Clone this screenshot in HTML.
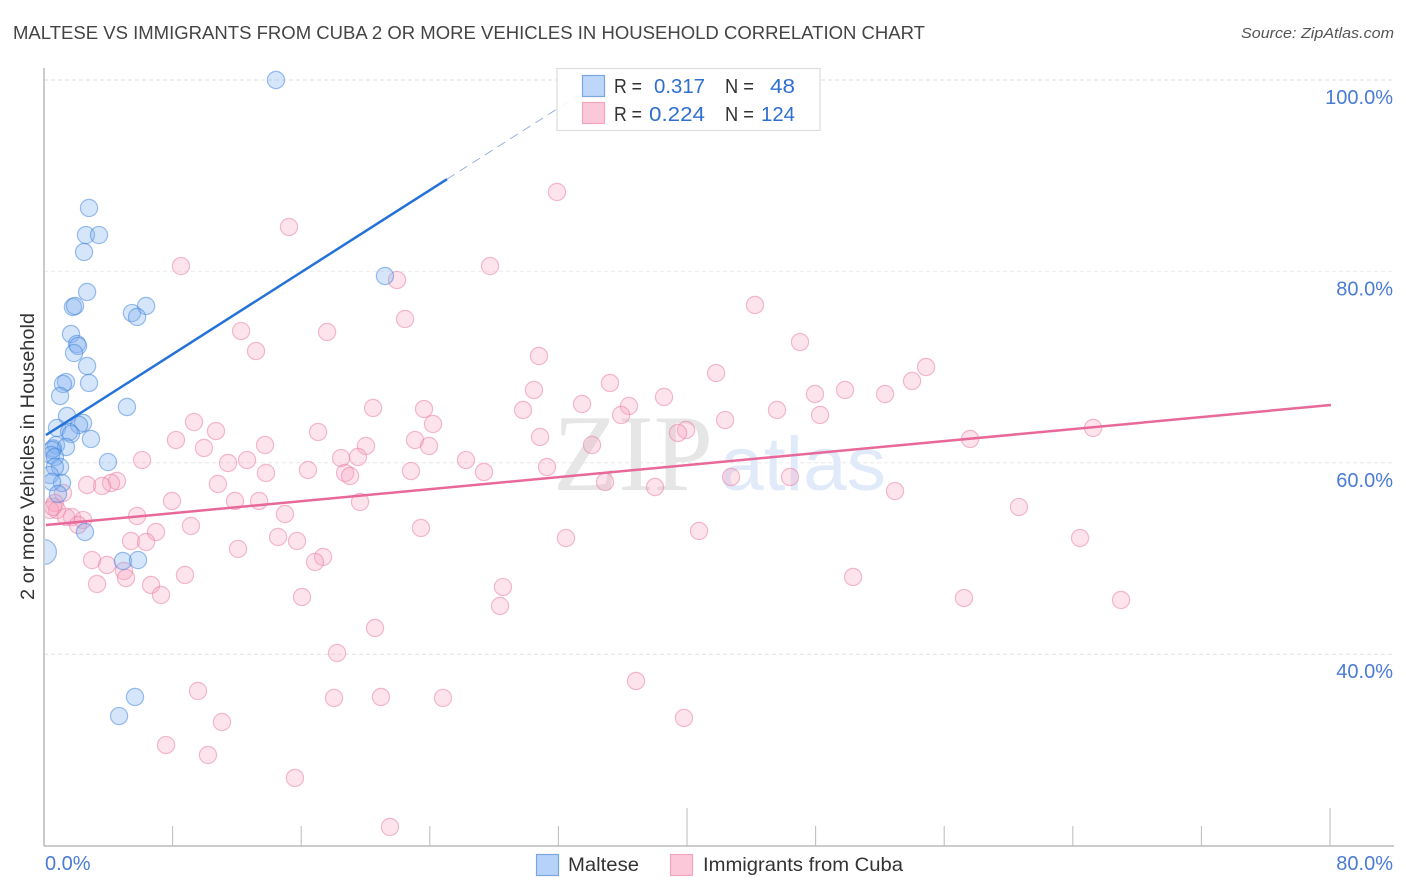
<!DOCTYPE html>
<html lang="en">
<head>
<meta charset="utf-8">
<title>Maltese vs Immigrants from Cuba correlation chart</title>
<style>
html,body{margin:0;padding:0;background:#fff;}
svg{display:block;font-family:"Liberation Sans",sans-serif;}
</style>
</head>
<body>
<svg id="chart" width="1406" height="892" viewBox="0 0 1406 892" xmlns="http://www.w3.org/2000/svg">
  <defs><clipPath id="plot-clip"><rect x="45" y="60" width="1349" height="786"/></clipPath></defs>
  <text x="13" y="39" font-size="18.5" fill="#444" textLength="912" lengthAdjust="spacingAndGlyphs">MALTESE VS IMMIGRANTS FROM CUBA 2 OR MORE VEHICLES IN HOUSEHOLD CORRELATION CHART</text>
  <text x="1394" y="38" font-size="15" font-style="italic" fill="#555" text-anchor="end" textLength="153" lengthAdjust="spacingAndGlyphs">Source: ZipAtlas.com</text>
  <text transform="translate(34,600) rotate(-90)" font-size="19" fill="#333" textLength="287" lengthAdjust="spacingAndGlyphs">2 or more Vehicles in Household</text>
  <g id="grid"></g>
  <text x="553" y="490" font-family="'Liberation Serif',serif" font-size="109" fill="#e6e6e6" textLength="160" lengthAdjust="spacingAndGlyphs">ZIP</text>
  <text x="720" y="490" font-size="76" fill="#e0eaf9" textLength="166" lengthAdjust="spacingAndGlyphs">atlas</text>
  <g id="points" clip-path="url(#plot-clip)"></g>
  <g id="trends"></g>
  <g id="axes"></g>
  <g>
    <rect x="557" y="68.5" width="263" height="62" fill="#fff" fill-opacity="0.9" stroke="#ddd" stroke-width="1.2"/>
    <rect x="582.5" y="75.5" width="22" height="21" fill="#b6d2f8" fill-opacity="0.9" stroke="#7aa6e4" stroke-width="1.2"/>
    <rect x="582.5" y="102.5" width="22" height="21" fill="#fbc8d9" stroke="#f2a5bf" stroke-width="1.2"/>
    <g font-size="20" fill="#333">
      <text x="614" y="93" textLength="28" lengthAdjust="spacingAndGlyphs">R =</text>
      <text x="614" y="121" textLength="28" lengthAdjust="spacingAndGlyphs">R =</text>
      <text x="725" y="93" textLength="29" lengthAdjust="spacingAndGlyphs">N =</text>
      <text x="725" y="121" textLength="29" lengthAdjust="spacingAndGlyphs">N =</text>
    </g>
    <g font-size="20.5" fill="#2f6fd0">
      <text x="654" y="93" textLength="51" lengthAdjust="spacingAndGlyphs">0.317</text>
      <text x="649" y="121" textLength="56" lengthAdjust="spacingAndGlyphs">0.224</text>
      <text x="770" y="93" textLength="25" lengthAdjust="spacingAndGlyphs">48</text>
      <text x="761" y="121" textLength="34" lengthAdjust="spacingAndGlyphs">124</text>
    </g>
  </g>
  <g>
    <rect x="536.5" y="854.5" width="22" height="21" fill="#b6d2f8" stroke="#7aa6e4" stroke-width="1.2"/>
    <text x="568" y="871" font-size="19.5" fill="#333" textLength="71" lengthAdjust="spacingAndGlyphs">Maltese</text>
    <rect x="670.5" y="854.5" width="22" height="21" fill="#fbc8d9" stroke="#f2a5bf" stroke-width="1.2"/>
    <text x="703" y="871" font-size="19.5" fill="#333" textLength="200" lengthAdjust="spacingAndGlyphs">Immigrants from Cuba</text>
  </g>
</svg>
<script>
const yTickValues = [100, 80, 60, 40];
const yTickLabels = ["100.0%", "80.0%", "60.0%", "40.0%"];
const xTickValues = [0, 8, 16, 24, 32, 40, 48, 56, 64, 72, 80];
const xMajorTicks = [40, 80];
const xEndValues = [0, 80];
const xEndLabels = ["0.0%", "80.0%"];

const malteseX = [14.43,2.80,2.61,3.42,2.49,21.21,2.68,1.80,1.93,6.35,5.47,5.79,1.68,2.05,2.12,1.87,2.68,1.37,1.18,2.80,1.00,5.16,1.43,2.43,2.18,0.81,1.56,1.68,2.92,0.75,0.56,1.37,0.50,0.44,0.68,3.98,1.00,0.68,0.37,1.12,0.50,0.87,2.55,4.91,5.85,0,5.66,4.67];
const malteseY = [100,86.63,83.8,83.8,82.03,79.52,77.85,76.28,76.39,76.39,75.65,75.24,73.46,72.41,72.21,71.47,70.12,68.44,68.24,68.34,66.98,65.83,64.89,64.16,63.95,63.64,63.22,63.01,62.49,61.86,61.5,61.65,61.34,60.82,60.61,60.08,59.56,59.56,58.73,57.89,58.0,56.74,52.77,49.74,49.84,50.68,35.53,33.54];
const malteseWeights = [1,1,1,1,1,1,1,1,1,1,1,1,1,1,1,1,1,1,1,1,1,1,1,1,1,1,1,1,1,1,1,1,1,1,1,1,1,1,1,1,1,1,1,1,1,1.45,1,1];

const cubaX = [31.91,15.24,8.52,27.75,21.96,44.23,22.46,12.26,17.61,47.03,13.19,30.79,54.87,41.81,54.00,35.21,30.48,49.83,47.96,52.32,38.57,33.47,36.39,20.47,23.64,29.80,45.60,35.90,48.28,42.37,9.33,24.20,65.26,39.94,39.44,10.70,17.05,30.86,23.08,8.21,57.61,34.09,23.95,13.75,20.03,9.95,18.48,19.53,26.25,6.10,11.45,12.63,22.83,27.37,31.29,13.81,16.42,18.73,19.04,42.74,46.41,34.90,38.01,10.82,4.54,4.17,3.61,2.68,52.94,11.88,13.38,19.66,7.96,60.65,14.99,5.79,23.45,9.14,40.75,6.97,14.56,32.47,5.41,6.35,15.74,64.45,12.07,17.36,16.86,3.92,2.99,4.98,5.10,8.77,50.33,3.30,6.66,7.28,28.55,16.05,28.37,57.23,67.0,20.59,18.23,36.83,9.58,18.04,20.96,24.82,39.81,11.07,7.59,10.20,15.61,21.52,1.18,0.68,0.81,0.37,0.56,1.74,1.37,2.43,2.12];
const cubaY = [88.30,84.64,80.56,80.56,79.10,76.49,75.03,73.77,73.67,72.62,71.68,71.16,70.01,69.38,68.55,68.34,67.61,67.61,67.19,67.19,66.88,66.15,65.94,65.73,65.62,65.52,65.52,65.0,65.0,64.47,64.26,64.06,63.64,63.43,63.12,63.32,63.22,62.70,62.38,62.38,62.49,61.86,61.76,61.86,61.76,61.55,60.50,60.61,60.29,60.29,59.98,60.29,59.14,59.04,59.56,58.94,59.25,58.94,58.62,58.52,58.52,58.0,57.47,57.79,58.10,57.89,57.58,57.68,57.05,56.01,56.01,55.91,56.01,55.38,54.65,54.44,53.19,53.40,52.88,52.77,52.25,52.14,51.83,51.73,51.83,52.14,51.0,50.16,49.64,49.32,49.84,48.70,47.96,48.28,48.07,47.34,47.23,46.19,47.02,45.98,45.04,45.87,45.67,42.74,40.13,37.20,36.16,35.43,35.53,35.43,33.34,32.92,30.51,29.47,27.07,21.95,56.85,55.80,55.07,55.07,55.4,54.34,54.34,54.02,53.50];

const malteseTrendIntercept = 62.77;
const malteseTrendSlope = 1.0717;
const malteseTrendSolidEnd = 25.07;
const malteseTrendDashEnd = 34.6;
const cubaTrendIntercept = 53.48;
const cubaTrendSlope = 0.1569;
const cubaTrendEnd = 80.06;

const NS = "http://www.w3.org/2000/svg";
function sx(v){ return 44 + v * 16.075; }
function sy(v){ return 80 + (100 - v) * 9.57; }
function make(tag, attrs, parent){
  const el = document.createElementNS(NS, tag);
  for (const k in attrs) el.setAttribute(k, attrs[k]);
  parent.appendChild(el);
  return el;
}
const grid = document.getElementById("grid");
const axes = document.getElementById("axes");
const points = document.getElementById("points");
const trends = document.getElementById("trends");

const gridColors = ["#dedede", "#f0ecee", "#e8e8e8", "#e2e2e2"];
yTickValues.forEach(function(v, i){
  const line = make("line", {x1: 44, x2: 1393, y1: sy(v), y2: sy(v), stroke: gridColors[i], "stroke-width": 1, "stroke-dasharray": "4 3"}, grid);
  
  
  const label = make("text", {x: 1393, y: sy(v) + 24, "font-size": 20, fill: "#4a7bd6", "text-anchor": "end"}, axes);
  label.textContent = yTickLabels[i];
  
  
});

const yAxis = make("line", {x1: 44, x2: 44, y1: 68, y2: 846, stroke: "#b4b4b4", "stroke-width": 1.4}, axes);


const xAxis = make("line", {x1: 44, x2: 1394, y1: 846, y2: 846, stroke: "#bcbcbc", "stroke-width": 1.4}, axes);



xTickValues.forEach(function(v){
  if (v === 0) return;
  const top = xMajorTicks.indexOf(v) >= 0 ? 808 : 826;
  const tick = make("line", {x1: sx(v), x2: sx(v), y1: top, y2: 846, stroke: "#c0c0c0", "stroke-width": 1.1}, axes);
  
  
});
xEndValues.forEach(function(v, i){
  const anchor = i === 0 ? "start" : "end";
  const px = i === 0 ? sx(v) + 1 : 1393;
  const label = make("text", {x: px, y: 870, "font-size": 20, fill: "#4a7bd6", "text-anchor": anchor}, axes);
  label.textContent = xEndLabels[i];
  
  
});

cubaX.forEach(function(v, i){
  const c = make("circle", {cx: sx(v), cy: sy(cubaY[i]), r: 8.6, fill: "#f7a3bf", "fill-opacity": 0.3, stroke: "#e87ba0", "stroke-opacity": 0.5, "stroke-width": 1.2}, points);
  
  
});
malteseX.forEach(function(v, i){
  const c = make("circle", {cx: sx(v), cy: sy(malteseY[i]), r: 8.6 * malteseWeights[i], fill: "#7fb0f0", "fill-opacity": 0.33, stroke: "#3b82dc", "stroke-opacity": 0.5, "stroke-width": 1.2}, points);
  
  
});

function bt(intercept, slope, x){ return intercept + slope * x; }
const bDash = make("line", {x1: sx(malteseTrendSolidEnd), y1: sy(bt(malteseTrendIntercept, malteseTrendSlope, malteseTrendSolidEnd)), x2: sx(malteseTrendDashEnd), y2: sy(bt(malteseTrendIntercept, malteseTrendSlope, malteseTrendDashEnd)), stroke: "#8fa8e0", "stroke-width": 0.9, "stroke-dasharray": "9 6"}, trends);


const bSolid = make("line", {x1: sx(0.12), y1: sy(bt(malteseTrendIntercept, malteseTrendSlope, 0.12)), x2: sx(malteseTrendSolidEnd), y2: sy(bt(malteseTrendIntercept, malteseTrendSlope, malteseTrendSolidEnd)), stroke: "#2472d8", "stroke-width": 2.5}, trends);


const pSolid = make("line", {x1: sx(0.12), y1: sy(bt(cubaTrendIntercept, cubaTrendSlope, 0.12)), x2: sx(cubaTrendEnd), y2: sy(bt(cubaTrendIntercept, cubaTrendSlope, cubaTrendEnd)), stroke: "#e8689a", "stroke-width": 2.5}, trends);


</script>
</body>
</html>
